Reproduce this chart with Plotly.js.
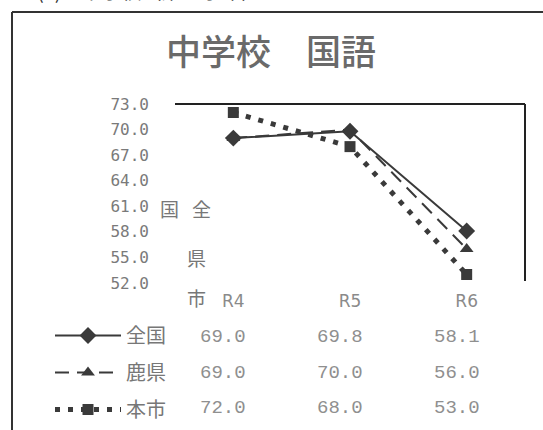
<!DOCTYPE html>
<html><head><meta charset="utf-8">
<script src="https://cdn.plot.ly/plotly-3.0.1.min.js"></script>
<style>html,body{margin:0;padding:0;background:#fff;}#chart{width:543px;height:430px;}</style>
</head><body><div id="chart"></div>
<script>
var categories = ['R4', 'R5', 'R6'];
var seriesNames = ['全国', '鹿県', '本市'];
var zenkoku = [69.0, 69.8, 58.1];
var kaken = [69.0, 70.0, 56.0];
var honshi = [72.0, 68.0, 53.0];
var yTicks = [52, 55, 58, 61, 64, 67, 70, 73];
var titleText = '中学校　国語';
var headerText = '(2)　中学校（第３学年）';

var L = 175, R = 525, T = 104, B = 283;
function px(x){ return (x - L) / (R - L); }
function py(y){ return (B - y) / (B - T); }

var ink = '#3a3a3a';
var seriesValues = [zenkoku, kaken, honshi];
var styles = [
  {dash: 'solid', width: 2, symbol: 'diamond', size: 13},
  {dash: '14px,8px', width: 2, symbol: 'triangle-up', size: 12},
  {dash: '5px,8px', width: 5, symbol: 'square', size: 11}
];
var traces = seriesValues.map(function(v, i){
  return {
    x: categories, y: v, name: seriesNames[i], type: 'scatter', mode: 'lines+markers',
    line: {color: ink, width: styles[i].width, dash: styles[i].dash},
    marker: {color: ink, symbol: styles[i].symbol, size: styles[i].size},
    legendgroup: 'g' + i
  };
});

var annotations = [];
var rowY = [337, 373, 408];
seriesValues.forEach(function(v, i){
  v.forEach(function(val, j){
    annotations.push({xref: 'x', yref: 'paper', x: j, y: py(rowY[i]), xshift: -10,
      text: val.toFixed(1), showarrow: false, xanchor: 'center', yanchor: 'middle',
      font: {family: 'Liberation Mono', size: 19, color: '#8f8f8f'}});
  });
});
var sideLabels = [['国', 169, 208], ['全', 201, 208], ['県', 196, 257], ['市', 196, 297]];
sideLabels.forEach(function(s){
  annotations.push({xref: 'paper', yref: 'paper', x: px(s[1]), y: py(s[2]), text: s[0],
    showarrow: false, xanchor: 'center', yanchor: 'middle',
    font: {family: 'Noto Sans CJK JP', size: 19, color: '#777'}});
});
annotations.push({xref: 'paper', yref: 'paper', x: px(35), y: py(-9), text: headerText,
  showarrow: false, xanchor: 'left', yanchor: 'middle',
  font: {family: 'Noto Sans CJK JP', size: 20, color: '#333'}});

var shapes = [
  {type: 'line', xref: 'paper', yref: 'paper', x0: 0, x1: 1, y0: 1, y1: 1, line: {color: '#222', width: 2}},
  {type: 'line', xref: 'paper', yref: 'paper', x0: 1, x1: 1, y0: 1, y1: py(281), line: {color: '#222', width: 2}},
  {type: 'line', xref: 'paper', yref: 'paper', x0: px(12), x1: px(560), y0: py(12), y1: py(12), line: {color: '#333', width: 2}},
  {type: 'line', xref: 'paper', yref: 'paper', x0: px(12), x1: px(12), y0: py(12), y1: py(450), line: {color: '#333', width: 2}}
];

var layout = {
  width: 543, height: 430,
  margin: {l: L, r: 543 - R, t: T, b: 430 - B, pad: 0, autoexpand: false},
  paper_bgcolor: '#fff', plot_bgcolor: '#fff',
  title: {text: titleText, x: 271/543, xref: 'container', xanchor: 'center', y: 1 - 53/430, yref: 'container', yanchor: 'middle',
    font: {family: 'Noto Sans CJK JP', size: 35, color: '#6a6a6a', weight: 500}},
  xaxis: {type: 'category', range: [-0.5, 2.5], showline: false, showgrid: false, zeroline: false,
    ticks: '', ticklabelstandoff: 6, tickfont: {family: 'DejaVu Sans', size: 17, color: '#8a8a8a'}},
  yaxis: {range: [52, 73], tickvals: yTicks, tickformat: '.1f', showline: false, showgrid: false, zeroline: false,
    ticks: '', ticklabelstandoff: 25, tickfont: {family: 'DejaVu Sans Mono', size: 16, color: '#7a7a7a'}},
  showlegend: true,
  legend: {x: px(50), xanchor: 'left', y: py(316), yanchor: 'top', itemwidth: 66, tracegroupgap: 8,
    font: {family: 'Noto Sans CJK JP', size: 20, color: '#777'}, bgcolor: 'rgba(0,0,0,0)'},
  annotations: annotations, shapes: shapes
};
Plotly.newPlot('chart', traces, layout, {displayModeBar: false, staticPlot: true});
</script></body></html>
